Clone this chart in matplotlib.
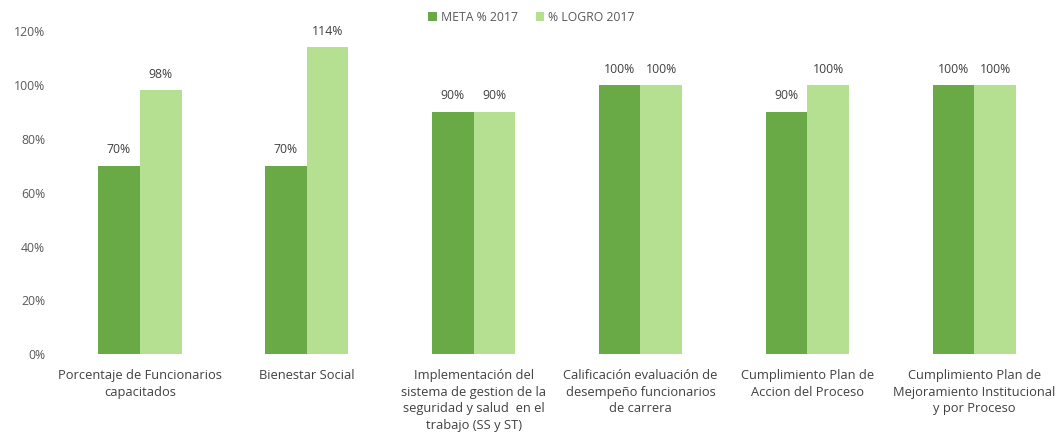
import numpy as np
import matplotlib.pyplot as plt
from matplotlib.ticker import PercentFormatter

categories = [
    "Porcentaje de Funcionarios\ncapacitados",
    "Bienestar Social",
    "Implementación del\nsistema de gestion de la\nseguridad y salud  en el\ntrabajo (SS y ST)",
    "Calificación evaluación de\ndesempeño funcionarios\nde carrera",
    "Cumplimiento Plan de\nAccion del Proceso",
    "Cumplimiento Plan de\nMejoramiento Institucional\ny por Proceso",
]
meta = [0.70, 0.70, 0.90, 1.00, 0.90, 1.00]
logro = [0.98, 1.14, 0.90, 1.00, 1.00, 1.00]

dark = "#6aaa46"
light = "#b6e091"
txt = "#595959"

plt.rcParams['font.family'] = ['Open Sans', 'DejaVu Sans']

fig = plt.figure(figsize=(10.63, 4.45), dpi=100)
ax = fig.add_axes([0.053, 0.204, 0.942, 0.726])

x = np.arange(len(categories))
w = 0.25
b1 = ax.bar(x - w / 2, meta, w, color=dark, label="META % 2017")
b2 = ax.bar(x + w / 2, logro, w, color=light, label="% LOGRO 2017")

for bars, vals in ((b1, meta), (b2, logro)):
    for r, v in zip(bars, vals):
        ax.text(r.get_x() + r.get_width() / 2, v + 0.035, "%d%%" % round(v * 100),
                ha="center", va="bottom", fontsize=8.8, color="#404040")

ax.set_ylim(0, 1.2)
ax.set_xlim(-0.5, len(categories) - 0.5)
ax.yaxis.set_major_formatter(PercentFormatter(1.0, decimals=0))
ax.set_yticks(np.arange(0, 1.21, 0.2))
ax.set_xticks(x)
ax.set_xticklabels(categories, fontsize=9.3, color="#404040", linespacing=1.35)
ax.tick_params(axis="y", labelsize=8.8, labelcolor=txt, length=0, pad=8)
ax.tick_params(axis="x", length=0, pad=11)
for s in ax.spines.values():
    s.set_visible(False)

fig.legend(loc="upper center", bbox_to_anchor=(0.5, 1.0), ncol=2, frameon=False,
           fontsize=8.8, labelcolor=txt, handlelength=0.7, handleheight=0.7,
           columnspacing=1.5, handletextpad=0.3)

fig.savefig("out.png")
